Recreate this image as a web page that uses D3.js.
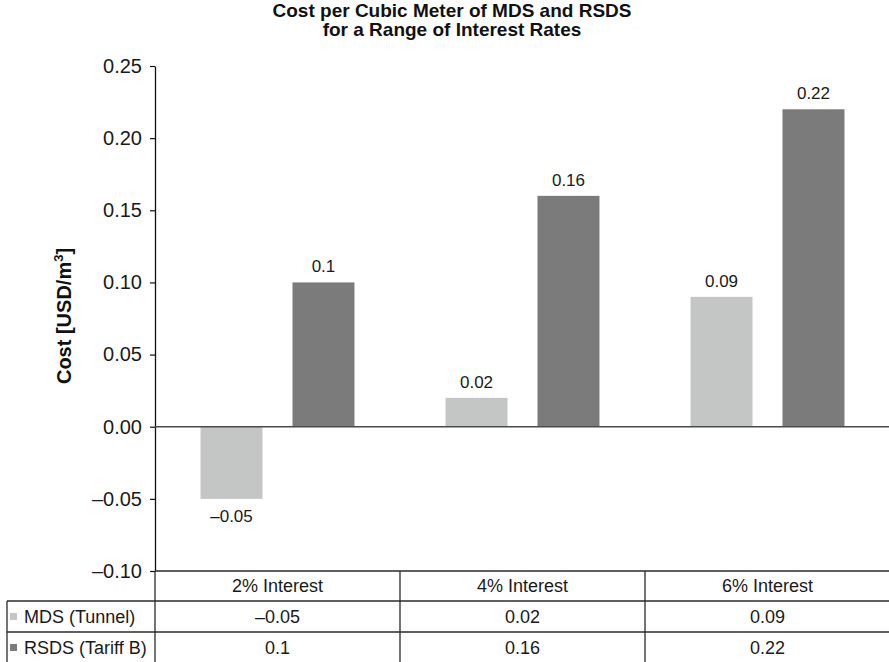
<!DOCTYPE html>
<html>
<head>
<meta charset="utf-8">
<script src="https://cdn.jsdelivr.net/npm/d3@7"></script>
<style>
  html, body { margin: 0; padding: 0; background: #fff; }
  svg { display: block; font-family: "Liberation Sans", Arial, Helvetica, sans-serif; }
</style>
</head>
<body>
<svg id="chart" width="889" height="662"></svg>
<script>
// Interest-rate scenarios and cost per cubic meter (USD/m³)
const categories = ["2% Interest", "4% Interest", "6% Interest"];
const seriesNames = ["MDS (Tunnel)", "RSDS (Tariff B)"];
const mdsValues = [-0.05, 0.02, 0.09];
const rsdsValues = [0.1, 0.16, 0.22];
const yTicks = [-0.10, -0.05, 0.00, 0.05, 0.10, 0.15, 0.20, 0.25];
const seriesColors = ["#c4c6c5", "#7b7b7b"];

const seriesValues = [mdsValues, rsdsValues];
const rows = categories.map((c, i) => ({
  category: c,
  values: seriesNames.map((s, k) => ({ series: s, k, value: seriesValues[k][i] }))
}));

const svg = d3.select("#chart");
const plotLeft = 155, plotRight = 890, plotTop = 66, plotBottom = 571;

const y = d3.scaleLinear().domain([-0.10, 0.25]).range([plotBottom, plotTop]);
const x = d3.scaleBand().domain(categories).range([plotLeft, plotRight]).paddingInner(0).paddingOuter(0);
const xInner = d3.scaleBand().domain(seriesNames).range([0, x.bandwidth()])
  .paddingInner(0.326).paddingOuter(0.495);

// en dash for negative numbers
const dash = s => s.replace(/^[-−]/, "–");
const fmtTick = v => dash(d3.format(".2f")(v));
const fmtVal = v => dash(String(v));

// Title
const title = svg.append("text")
  .attr("x", 452).attr("y", 17)
  .attr("text-anchor", "middle")
  .style("font-size", "19px").style("font-weight", "bold").attr("fill", "#111");
title.append("tspan").attr("x", 452).attr("dy", 0).text("Cost per Cubic Meter of MDS and RSDS");
title.append("tspan").attr("x", 452).attr("dy", 19).text("for a Range of Interest Rates");

// Y axis
const yAxis = d3.axisLeft(y).tickValues(yTicks).tickFormat(fmtTick).tickSize(5).tickSizeOuter(0).tickPadding(8);
const gy = svg.append("g").attr("transform", `translate(${plotLeft},0)`).call(yAxis);
gy.attr("font-family", null);
gy.select(".domain").attr("stroke", "#111").attr("stroke-width", 1.3);
gy.selectAll(".tick line").attr("stroke", "#111").attr("stroke-width", 1.2);
gy.selectAll(".tick text").style("font-size", "20px").attr("fill", "#1a1a1a");

// Y axis label
const yl = svg.append("text")
  .attr("transform", "translate(71,316) rotate(-90)")
  .attr("text-anchor", "middle")
  .style("font-size", "20px").style("font-weight", "bold").attr("fill", "#111");
yl.append("tspan").text("Cost [USD/m");
yl.append("tspan").attr("dy", -8).style("font-size", "13px").text("3");
yl.append("tspan").attr("dy", 8).text("]");

// Bars
const groups = svg.append("g").selectAll("g")
  .data(rows).join("g")
  .attr("transform", d => `translate(${x(d.category)},0)`);

groups.selectAll("rect")
  .data(d => d.values).join("rect")
  .attr("x", d => xInner(d.series))
  .attr("width", xInner.bandwidth())
  .attr("y", d => y(Math.max(0, d.value)))
  .attr("height", d => Math.abs(y(d.value) - y(0)))
  .attr("fill", d => seriesColors[d.k]);

// Value labels
groups.selectAll("text.val")
  .data(d => d.values).join("text")
  .attr("class", "val")
  .attr("x", d => xInner(d.series) + xInner.bandwidth() / 2)
  .attr("y", d => d.value >= 0 ? y(d.value) - 10 : y(d.value) + 23)
  .attr("text-anchor", "middle")
  .style("font-size", "17px").attr("fill", "#1a1a1a")
  .text(d => fmtVal(d.value));

// Zero line
svg.append("line")
  .attr("x1", plotLeft).attr("x2", 889)
  .attr("y1", y(0)).attr("y2", y(0))
  .attr("stroke", "#4a4a4a").attr("stroke-width", 1.5);

// Data table below the plot
const tableLeft = 7;
const rowTops = [plotBottom, 601, 632, 663];
const table = svg.append("g").attr("stroke", "#2a2a2a").attr("stroke-width", 1.3);
table.append("line").attr("x1", plotLeft).attr("x2", 889).attr("y1", rowTops[0]).attr("y2", rowTops[0]);
[1, 2, 3].forEach(i => table.append("line")
  .attr("x1", tableLeft).attr("x2", 889).attr("y1", rowTops[i]).attr("y2", rowTops[i]));
table.append("line").attr("x1", tableLeft).attr("x2", tableLeft).attr("y1", rowTops[1]).attr("y2", rowTops[3]);
categories.forEach(c => {
  table.append("line").attr("x1", x(c)).attr("x2", x(c)).attr("y1", rowTops[0]).attr("y2", rowTops[3]);
});
table.append("line").attr("x1", plotRight).attr("x2", plotRight).attr("y1", rowTops[0]).attr("y2", rowTops[3]);

const cellText = svg.append("g").style("font-size", "18px").attr("fill", "#1a1a1a");
categories.forEach(c => {
  cellText.append("text")
    .attr("x", x(c) + x.bandwidth() / 2)
    .attr("y", (rowTops[0] + rowTops[1]) / 2 + 6)
    .attr("text-anchor", "middle").text(c);
});
seriesNames.forEach((s, k) => {
  const cy = (rowTops[k + 1] + rowTops[k + 2]) / 2;
  svg.append("rect")
    .attr("x", 10).attr("y", cy - 3.5).attr("width", 7).attr("height", 7)
    .attr("fill", seriesColors[k]);
  cellText.append("text").attr("x", 24).attr("y", cy + 6).text(s);
  categories.forEach((c, i) => {
    cellText.append("text")
      .attr("x", x(c) + x.bandwidth() / 2)
      .attr("y", cy + 6)
      .attr("text-anchor", "middle")
      .text(fmtVal(seriesValues[k][i]));
  });
});
</script>
</body>
</html>
